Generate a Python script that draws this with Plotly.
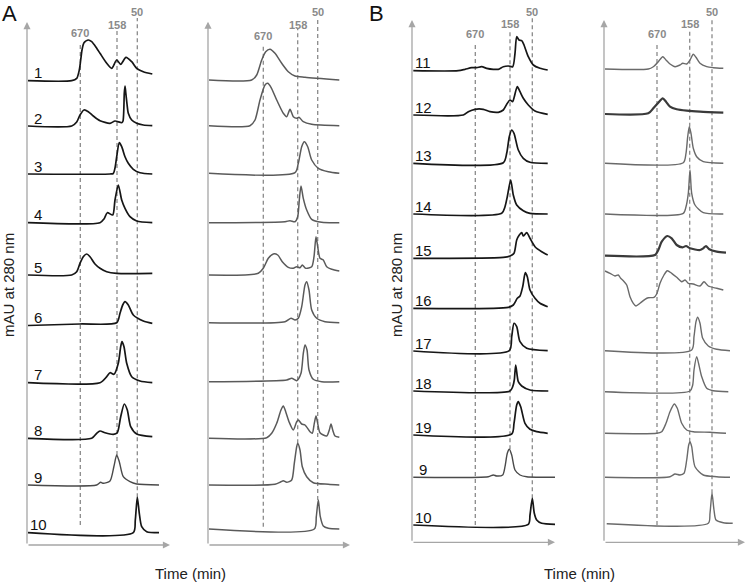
import plotly.graph_objects as go

W, H = 749, 584

# ---------------- DATA (time offset from y-axis, signal height above baseline) -------------
MARKERS = ["670", "158", "50"]

# Panel A, left
AL_LABELS = ["1", "2", "3", "4", "5", "6", "7", "8", "9", "10"]
AL_OFFSETS = [464.3, 419, 371, 322.3, 270, 219.5, 162.3, 106.7, 60, 12.3]
AL_T = [
    [1, 44.7, 49.7, 52.3, 53.7, 55, 57, 61.3, 64.7, 69.7, 73, 79.7, 84.7, 89.7, 93.7, 99, 104.7, 109.7, 116.3, 125.3],
    [1, 44.7, 49.7, 53, 57, 61.3, 66.3, 73, 83, 88, 94.7, 96, 97.3, 98, 98.7, 100, 101.3, 104.7, 109.7, 116.3, 125.3],
    [1, 83, 86.3, 88, 89.7, 92.3, 94.7, 98, 101.3, 106.3, 113, 125.3],
    [1, 73, 77, 80.3, 85.7, 88, 91.3, 94.7, 98, 103, 109.7, 125.3],
    [1, 44.7, 49.7, 53, 56.3, 59.7, 63, 68, 73, 79.7, 89.7, 125.3],
    [1, 53, 89.7, 93, 95.7, 98, 101.3, 106.3, 116.3, 125.3],
    [1, 73, 79.7, 83, 87, 91.3, 93.7, 95, 97, 99.7, 104.7, 113, 125.3],
    [1, 64.7, 69.7, 73, 78, 86.3, 90.3, 93.7, 97.3, 100.3, 103.7, 109.7, 125.3],
    [1, 69.7, 73.7, 76.3, 83, 87, 89.7, 92.3, 96.3, 103, 109.7, 132],
    [1, 106.3, 108.3, 110.3, 112.3, 114.7, 119.7, 132],
]
AL_H = [
    [0, 0, 2.3, 10.7, 20.7, 30.7, 38, 40.7, 39, 32.4, 27.4, 17.4, 12.4, 20.7, 16.4, 23.4, 19, 12.4, 9, 6.7],
    [0, 0, 4, 11, 16, 14.3, 10, 5.3, 2.7, 5, 3.3, 5, 33, 40, 34, 22, 12.7, 6, 2.7, 1, 0.3],
    [0, 0, 0.5, 6, 17.3, 31.3, 27.3, 17.3, 10.7, 4.7, 1.3, 0],
    [0, 0, 3.7, 10, 7.7, 22.7, 37.7, 22.7, 14.4, 6, 1.7, 0],
    [0, 0, 3.3, 11.7, 18.3, 21, 18.3, 11, 6.7, 3.3, 1.7, 1.7],
    [0, 1.5, 2.8, 12.2, 20.5, 23.8, 20.5, 10.5, 4.5, 2.2],
    [0, 0, 6, 10, 8.4, 19.4, 36, 41, 36, 19.4, 6, 1.7, 0],
    [0, 0, 5, 7.3, 5.6, 4, 5.6, 21.6, 34.3, 28.3, 11.6, 4.3, 1.6],
    [0, 0, 2.7, 1.7, 4, 19, 30, 23.3, 8.3, 3.3, 1, 0],
    [0, 0, 12.7, 35.4, 19.4, 6, 1, 0],
]
AL_MARKER_T = [53.3, 90, 110.3]

# Panel A, right
AR_OFFSETS = [465, 419.3, 371.7, 322.3, 270, 222.3, 163.3, 106.7, 60, 16]
AR_T = [
    [1, 43.7, 48.7, 53.7, 57.7, 62, 67, 73.7, 80.3, 87, 97, 131.3],
    [1, 42, 47, 52, 57, 59.7, 63, 68.7, 75.3, 78.7, 82, 85.3, 88.7, 91, 95.3, 103.7, 131.3],
    [1, 87, 90.3, 93.7, 96.3, 99.7, 103.7, 110.3, 120.3, 131.3],
    [1, 77, 82, 87, 89.7, 91.3, 93, 95.3, 98.7, 103.7, 113.7, 131.3],
    [1, 50.3, 55.3, 60.3, 65.3, 69.7, 74.3, 80.3, 85.3, 88.7, 92, 94.3, 97.7, 103.7, 106, 108, 109.7, 112, 115.3, 118.7, 123.7, 131.3],
    [1, 77, 83, 87, 90.3, 93.7, 97, 98.7, 101, 103.7, 108.7, 117, 131.3],
    [1, 78.7, 83.7, 88.7, 93, 95.3, 97, 99, 101, 105.3, 113.7, 131.3],
    [1, 58.7, 63.7, 68.7, 73, 75.3, 77.7, 81, 85.3, 88.7, 90.3, 93.7, 97, 102, 104.3, 106.3, 108, 109.7, 112, 118.7, 121.3, 123, 124.7, 127, 131.3],
    [1, 67, 73, 75.3, 78.7, 83.7, 86.3, 88.7, 89.7, 92, 94.3, 98.7, 105.3, 120.3, 131.3],
    [1, 106.3, 108.3, 110.3, 112.3, 115.3, 120.3, 131.3],
]
AR_H = [
    [0, 0, 5, 20, 28.3, 30.7, 26.7, 16.7, 8.3, 4, 2.7, 0],
    [0, 0, 5.7, 25.7, 40.7, 42.4, 38.4, 25.7, 12.4, 9, 16.4, 9, 7.4, 8.4, 4, 1.4, 0],
    [0, 0.6, 10, 26.6, 31.6, 26.6, 13.3, 5, 1.6, 0],
    [0, 1, 2, 1, 6, 22.7, 36.7, 24.4, 12.7, 3.4, 0.4, 0],
    [0, 1.7, 6.7, 16.7, 21, 20, 13.3, 7.7, 6.7, 8.3, 7.3, 10, 6.7, 8.3, 18.3, 38.3, 28.3, 16.7, 15, 8.3, 5.7, 4],
    [0, 1, 4.4, 2.7, 4.4, 16, 37.7, 41, 32.7, 12.7, 4.4, 1, 0],
    [0, 1.7, 3.4, 1, 8.4, 28.4, 36.7, 31.7, 11.7, 2.4, 0, 0],
    [0, 0.6, 5, 15, 28.3, 32.3, 26.6, 16.6, 8.3, 16.6, 18.3, 14.3, 13.3, 6.6, 5, 15, 22.3, 15, 5.6, 2.3, 8.3, 14.3, 8.3, 2.3, 1],
    [0, 0.7, 3.3, 4.3, 2.7, 5, 21.7, 38.3, 41.7, 35, 18.3, 8.3, 2.3, 0.7, 0],
    [0, 0, 12.3, 29, 12.3, 3, 0.7, 0],
]
AR_MARKER_T = [55.3, 89.7, 109.7]

# Panel B, left
BL_LABELS = ["11", "12", "13", "14", "15", "16", "17", "18", "19", "9", "10"]
BL_OFFSETS = [471.6, 427.3, 379, 328.3, 284, 234, 191.3, 151.3, 107.3, 65, 17.3]
BL_T = [
    [1.3, 46.3, 53, 59.7, 64.7, 69.7, 74.7, 81.3, 86.3, 91.3, 96.3, 100.7, 103, 104.7, 107, 109.7, 112, 116.3, 121.3, 128, 135.7],
    [1.3, 51.3, 56.3, 63, 71.3, 78, 86.3, 91.3, 95.3, 98, 100.7, 102.3, 105.3, 108, 111.3, 116.3, 123, 135.7],
    [1.3, 91.3, 94.7, 97.3, 99.7, 102, 106.3, 111.3, 118, 135.7],
    [1.3, 89.7, 93, 95.3, 98.7, 101.3, 104.7, 111.3, 118, 135.7],
    [1.3, 91.3, 98, 102, 104.7, 107.3, 109.7, 111.3, 114.7, 118, 123, 129.7, 135.7],
    [1.3, 96.3, 101.3, 105.3, 108, 110.7, 113.3, 115.3, 118, 123, 128, 135.7],
    [1.3, 97.3, 99.7, 102, 104.7, 108, 114.7, 135.7],
    [1.3, 98, 100.7, 102.3, 103.7, 106.3, 109.7, 118, 136.3],
    [1.3, 99.7, 102, 104.7, 106.3, 108.7, 113, 118, 124.7, 135.7],
    [1.3, 76.3, 81.3, 84.7, 90.7, 93, 95.3, 97.3, 99.7, 103, 108, 114.7, 143],
    [1.3, 116.3, 118, 120.3, 122.3, 124.7, 129.7, 143],
]
BL_H = [
    [0, 0, 1.4, 3, 3, 4, 2.4, 1.4, 1.4, 4, 4.7, 4, 17.4, 34, 30.7, 30, 25.7, 14, 5.7, 2.4, 0.7],
    [0, 0, 3.3, 5.7, 5.7, 3.3, 2.7, 5, 11.7, 15, 13.3, 18.3, 28.3, 23.3, 16.7, 10, 4, 0.7],
    [0, 0.6, 10, 26.6, 33.3, 30, 13.3, 5, 1, 0],
    [0, 0.7, 7.3, 17.3, 34, 19, 9, 3.3, 0.7, 0],
    [0, 1, 2.3, 5, 18.3, 23.3, 25.6, 22.3, 25.6, 20, 11.6, 6.6, 3.3],
    [0, 1, 3.3, 10, 12.3, 21.6, 35.6, 31.6, 18.3, 10, 5, 1.6],
    [0, 0.3, 14.3, 27.7, 24.3, 9.3, 2.7, 0.3],
    [0, 0, 4.3, 11, 26, 9.3, 5, 1, 0],
    [0, 1, 11.7, 30, 33.3, 28.3, 11.7, 5.7, 3.3, 1.7],
    [0, 0.6, 2.3, 1.3, 2.3, 10.6, 24, 28, 22.3, 7.3, 2.3, 0.6, 0],
    [0, 0.7, 10, 26.7, 11.7, 5, 1.7, 0.7],
]
BL_MARKER_T = [63.3, 98, 120.3]

# Panel B, right
BR_OFFSETS = [473.3, 428.3, 379, 328.3, 286.6, 271.3, 191.6, 150.6, 109, 65, 18.6]
BR_T = [
    [1, 44.3, 49.3, 54.3, 58.7, 62, 66, 71, 76, 78.7, 82.7, 86, 89.3, 92, 96, 102.7, 109.3, 119.3],
    [1, 44.3, 49.3, 54.3, 58.7, 62, 66, 72.7, 82.7, 96, 119.3],
    [1, 79.3, 82, 83.7, 85.3, 87, 89.3, 92.7, 99.3, 119.3],
    [1, 79.3, 82, 84.3, 86, 87.7, 91, 99.3, 119.3],
    [1, 51, 54.3, 57.7, 63.3, 67.7, 72.7, 78.7, 82, 86, 96, 99.3, 102, 105.3, 112.7, 122],
    [1, 6, 11, 14.3, 16.7, 19.3, 22.7, 26, 29.3, 32, 36, 41, 44.3, 50, 52.7, 56, 60, 63.3, 67.7, 72.7, 77.7, 81, 84.3, 89.3, 96, 100, 104.3, 112.7, 119.3],
    [1, 87.7, 90, 92, 93.7, 96, 98.7, 104.3, 112.7, 126],
    [1, 86, 88.7, 90, 92.7, 95.3, 97.7, 102.7, 109.3, 124.3],
    [1, 52.7, 57.7, 62, 66, 70.3, 73.3, 77.7, 82.7, 89.3, 106, 122],
    [1, 66, 71, 76, 80, 82.7, 84.7, 86, 87.7, 91, 99.3, 112.7, 126],
    [2.7, 104.3, 106, 108, 110, 112, 119.3, 128.7],
]
BR_H = [
    [0, 0, 2.3, 7.3, 12.3, 9, 5, 2.3, 4, 5.7, 5, 9, 14.7, 11.7, 5.7, 2.3, 1.3, 0.7],
    [0, 0.7, 5.7, 11.3, 15.7, 12.3, 7.3, 4.7, 3.3, 2.3, 1.3],
    [0, 0.6, 10, 26.6, 36.6, 30, 15, 6.6, 1.6, 0],
    [0, 0.7, 7.3, 20.7, 44, 20.7, 9, 1.3, 0],
    [0, 0.7, 5.7, 14, 19.7, 17.4, 10.7, 8.4, 9.7, 7.4, 5.7, 7.4, 9.7, 6.4, 4, 3],
    [0, -2.3, -5, -4, -7.3, -9.7, -14, -25.7, -32.3, -35, -32.3, -28.3, -26.7, -26.3, -23, -12.3, -4, 0.3, -2.3, -6.3, -10.7, -9, -12.3, -13, -15, -10.7, -15, -17.3, -19],
    [0, 0.7, 14, 29, 33.4, 27.4, 12.4, 4.7, 1.4, 0],
    [0, 0.7, 6.7, 21.7, 35, 25, 15, 3.4, 1, 0],
    [0, 0, 1.6, 10, 21.6, 29.3, 25, 10, 3.3, 1.6, 1, 0],
    [0, 0.6, 3.3, 2.3, 4, 17.3, 32.3, 35.6, 30.6, 10.6, 2.3, 0.6, 0],
    [0, 0.4, 10.4, 30.4, 13.7, 3.7, 1, 0.4],
]
BR_MARKER_T = [53, 85.7, 108]

# ---------------- LAYOUT / STYLE -------------
FONT = "Liberation Sans, Arial, sans-serif"
AXIS_GRAY = "#a6a6a6"
DASH_GRAY = "#8a8a8a"

PANELS = [
    dict(T=AL_T, Hs=AL_H, offs=AL_OFFSETS, labels=AL_LABELS, mt=AL_MARKER_T,
         x0=27, xr=150, bottom=545, tipx=143, tipy=523,
         dash_y0=[20, 90, 47.7], dash_y1=[503, 514, 527], lab_y=[512, 520, 533],
         colors=["#161616"] * 8 + ["#4a4a4a", "#161616"], widths=[1.7] * 8 + [1.4, 1.7]),
    dict(T=AR_T, Hs=AR_H, offs=AR_OFFSETS, labels=None, mt=AR_MARKER_T,
         x0=208, xr=150, bottom=545, tipx=142, tipy=523.3,
         dash_y0=[18.3, 101.7, 45], dash_y1=[499, 516, 527], lab_y=[509, 520, 532.7],
         colors=["#5a5a5a"] * 10, widths=[1.5] * 10),
    dict(T=BL_T, Hs=BL_H, offs=BL_OFFSETS, labels=BL_LABELS, mt=BL_MARKER_T,
         x0=412, xr=150, bottom=542.3, tipx=143, tipy=522.3,
         dash_y0=[17.3, 93, 44], dash_y1=[499.3, 511.8, 524.3], lab_y=[508, 518, 530],
         colors=["#161616"] * 9 + ["#4a4a4a", "#161616"], widths=[1.7] * 9 + [1.4, 1.7]),
    dict(T=BR_T, Hs=BR_H, offs=BR_OFFSETS, labels=None, mt=BR_MARKER_T,
         x0=604, xr=144, bottom=542.3, tipx=141, tipy=522.3,
         dash_y0=[17.3, 100.6, 49], dash_y1=[499.3, 512.3, 524.3], lab_y=[508, 518, 530],
         colors=["#6a6a6a", "#3a3a3a", "#6a6a6a", "#6a6a6a", "#3a3a3a"] + ["#6a6a6a"] * 6,
         widths=[1.4, 2.2, 1.4, 1.4, 2.2] + [1.4] * 6),
]

fig = go.Figure()
annotations = []
layout_axes = {}

for i, p in enumerate(PANELS):
    n = "" if i == 0 else str(i + 1)
    xa, ya = "x" + n, "y" + n
    layout_axes["xaxis" + n] = dict(domain=[p["x0"] / W, (p["x0"] + p["xr"]) / W],
                                    range=[0, p["xr"]], visible=False, anchor=ya, fixedrange=True)
    layout_axes["yaxis" + n] = dict(domain=[(H - p["bottom"]) / H, 1],
                                    range=[0, p["bottom"]], visible=False, anchor=xa, fixedrange=True)
    # dashed size-marker lines
    for k, t in enumerate(p["mt"]):
        fig.add_trace(go.Scatter(x=[t, t], y=[p["dash_y0"][k], p["dash_y1"][k]], mode="lines",
                                 line=dict(color=DASH_GRAY, width=1.3, dash="4px,3px"),
                                 xaxis=xa, yaxis=ya, hoverinfo="skip", showlegend=False))
        annotations.append(dict(x=t, y=p["lab_y"][k], xref=xa, yref=ya, text="<b>%s</b>" % MARKERS[k],
                                showarrow=False, font=dict(family=FONT, size=11, color=DASH_GRAY),
                                xanchor="center", yanchor="middle"))
    # chromatogram traces
    for j, (ts, hs) in enumerate(zip(p["T"], p["Hs"])):
        off = p["offs"][j]
        fig.add_trace(go.Scatter(x=ts, y=[off + h for h in hs], mode="lines",
                                 line=dict(color=p["colors"][j], width=p["widths"][j],
                                           shape="spline", smoothing=0.7),
                                 xaxis=xa, yaxis=ya, hoverinfo="skip", showlegend=False))
        if p["labels"]:
            annotations.append(dict(x=11, y=off + 8, xref=xa, yref=ya, text=p["labels"][j],
                                    showarrow=False, font=dict(family=FONT, size=15, color="#111"),
                                    xanchor="center", yanchor="middle"))
    # axes with arrowheads
    for (tx, ty) in [(0, p["tipy"]), (p["tipx"], 0)]:
        annotations.append(dict(x=tx, y=ty, ax=0, ay=0, xref=xa, yref=ya, axref=xa, ayref=ya,
                                text="", showarrow=True, arrowhead=2, arrowsize=1.1,
                                arrowwidth=1.3, arrowcolor=AXIS_GRAY, standoff=0, startstandoff=0))

# panel letters and axis titles
annotations += [
    dict(x=9 / W, y=1 - 13 / H, xref="paper", yref="paper", text="A", showarrow=False,
         font=dict(family=FONT, size=22, color="#111"), xanchor="center", yanchor="middle"),
    dict(x=376 / W, y=1 - 13 / H, xref="paper", yref="paper", text="B", showarrow=False,
         font=dict(family=FONT, size=22, color="#111"), xanchor="center", yanchor="middle"),
    dict(x=8 / W, y=1 - 285 / H, xref="paper", yref="paper", text="mAU at 280 nm", showarrow=False,
         textangle=-90, font=dict(family=FONT, size=15, color="#222"), xanchor="center", yanchor="middle"),
    dict(x=396 / W, y=1 - 285 / H, xref="paper", yref="paper", text="mAU at 280 nm", showarrow=False,
         textangle=-90, font=dict(family=FONT, size=15, color="#222"), xanchor="center", yanchor="middle"),
    dict(x=190 / W, y=1 - 573 / H, xref="paper", yref="paper", text="Time (min)", showarrow=False,
         font=dict(family=FONT, size=15, color="#222"), xanchor="center", yanchor="middle"),
    dict(x=579 / W, y=1 - 573 / H, xref="paper", yref="paper", text="Time (min)", showarrow=False,
         font=dict(family=FONT, size=15, color="#222"), xanchor="center", yanchor="middle"),
]

fig.update_layout(width=W, height=H, margin=dict(l=0, r=0, t=0, b=0),
                  paper_bgcolor="white", plot_bgcolor="rgba(0,0,0,0)",
                  showlegend=False, annotations=annotations, **layout_axes)

fig.write_html("out.html", config={"displayModeBar": False},
               post_script="document.body.style.margin='0';document.body.style.overflow='hidden';")
